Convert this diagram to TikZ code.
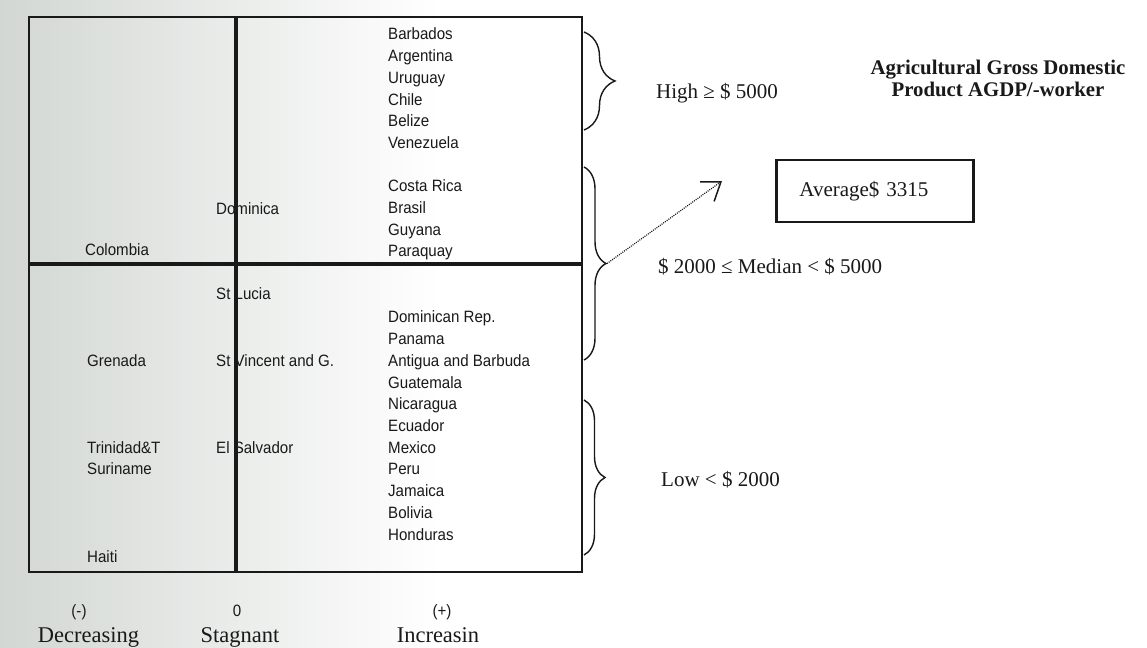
\documentclass[tikz,border=0pt]{standalone}
\usepackage{fontspec}
\setmainfont{Liberation Serif}
\newfontfamily\arialf{Liberation Sans}
\newfontfamily\arialn[FakeStretch=0.92]{Liberation Sans}
\usetikzlibrary{decorations.pathreplacing,arrows.meta}
\definecolor{ink}{RGB}{25,25,25}
\definecolor{bgl}{RGB}{210,215,211}
\begin{document}
\begin{tikzpicture}[x=1bp,y=-1bp,
  cname/.style={font=\arialn\fontsize{16.4bp}{18bp}\selectfont, anchor=base west, inner sep=0pt, text=ink},
  axsans/.style={font=\arialn\fontsize{16.4bp}{18bp}\selectfont, anchor=base, inner sep=0pt, text=ink},
  axserif/.style={font=\fontsize{22.5bp}{26bp}\selectfont, anchor=base, inner sep=0pt, text=ink},
  rlabel/.style={font=\fontsize{21bp}{24bp}\selectfont, anchor=base west, inner sep=0pt, text=ink},
  ttl/.style={font=\bfseries\fontsize{20.8bp}{22bp}\selectfont, anchor=base, inner sep=0pt, text=ink},
  frame/.style={draw=ink, line width=2bp},
  divider/.style={draw=ink, line width=4bp},
  bracestyle/.style={draw=ink, line width=1.4bp, decorate},
  avgbox/.style={draw=ink, line width=2.8bp, font=\fontsize{21bp}{24bp}\selectfont, text=ink,
                 text width=151bp, inner xsep=23bp, minimum height=62bp, align=left, anchor=west},
  dotarrow/.style={draw=ink, line width=1.2bp, dash pattern=on 1bp off 1.1bp,
                   -{Straight Barb[length=17bp,width=24bp,line width=1.5bp]}}
]
\useasboundingbox (0,0) rectangle (1147,648);
\fill[white] (0,0) rectangle (1147,648);
\shade[left color=bgl, right color=white] (0,0) rectangle (440,648);

% country names, right column
\foreach \n [count=\i from 0] in {Barbados,Argentina,Uruguay,Chile,Belize,Venezuela}
  \node[cname] (hi\i) at (388,{40+21.7*\i}) {\n};
\foreach \n [count=\i from 0] in {Costa Rica,Brasil,Guyana,Paraquay}
  \node[cname] (md\i) at (388,{191.9+21.7*\i}) {\n};
\foreach \n [count=\i from 0] in {Dominican Rep.,Panama,Antigua and Barbuda,Guatemala,Nicaragua,Ecuador,Mexico,Peru,Jamaica,Bolivia,Honduras}
  \node[cname] (lo\i) at (388,{323+21.7*\i}) {\n};

% middle and left columns
\node[cname] (dominica) at (216,215) {Dominica};
\node[cname] (colombia) at (85,256) {Colombia};
\node[cname] (stlucia) at (216,300) {St Lucia};
\node[cname] (grenada) at (87,366.4) {Grenada};
\node[cname] (stvincent) at (216,366.4) {St Vincent and G.};
\node[cname] (trinidad) at (87,453.2) {Trinidad\&T};
\node[cname] (suriname) at (87,474.9) {Suriname};
\node[cname] (elsalvador) at (216,453.2) {El Salvador};
\node[cname] (haiti) at (87,562) {Haiti};

% frame and dividers
\draw[frame] (29,17) rectangle (582,572);
\draw[divider] (236,17) -- (236,572);
\draw[divider] (29,264) -- (582,264);

% axis labels
\node[axsans] (neg) at (79,616.5) {(-)};
\node[axsans] (zero) at (237,616.5) {0};
\node[axsans] (pos) at (442,616.5) {(+)};
\node[axserif] (dec) at (88.5,642) {Decreasing};
\node[axserif] (stag) at (240,642) {Stagnant};
\node[axserif] (inc) at (438,642) {Increasin};

% braces
\draw[bracestyle, decoration={brace, amplitude=31bp}] (584,32) -- (584,130);
\draw[bracestyle, decoration={brace, amplitude=22bp}] (584,167) -- (584,360);
\draw[bracestyle, decoration={brace, amplitude=21bp}] (584,400) -- (584,555);
\coordinate (b2tip) at (607,263.5);

% right labels
\node[rlabel] (high) at (656,98.5) {High ≥ \$ 5000};
\node[rlabel] (median) at (658,273.5) {\$ 2000 ≤ Median < \$ 5000};
\node[rlabel] (low) at (661,486.5) {Low < \$ 2000};
\node[ttl] (title1) at (998,74.7) {Agricultural Gross Domestic};
\node[ttl] (title2) at (998,96.7) {Product AGDP/-worker};
\node[avgbox] (avg) at (775,191) {Average\$ 3315};

% dotted arrow
\coordinate (arrowend) at (722,181);
\draw[dotarrow] (b2tip) -- (arrowend);
\end{tikzpicture}
\end{document}
